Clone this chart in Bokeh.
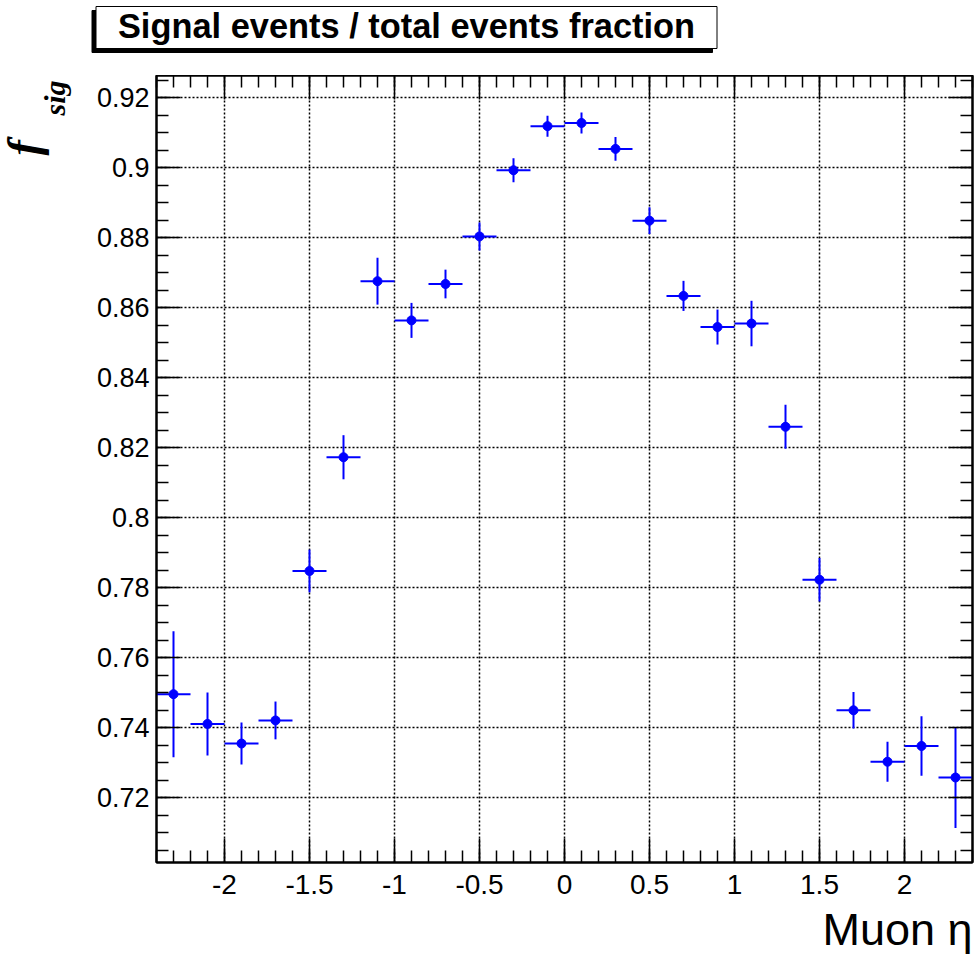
from bokeh.embed import file_html
from bokeh.layouts import column
from bokeh.models import ColumnDataSource, FixedTicker, Label, LinearAxis, Range1d, Title
from bokeh.plotting import figure
from bokeh.resources import INLINE

# Signal fraction per muon-eta bin (bin centres, values, symmetric errors)
eta_centers = [-2.3, -2.1, -1.9, -1.7, -1.5, -1.3, -1.1, -0.9, -0.7, -0.5, -0.3, -0.1,
               0.1, 0.3, 0.5, 0.7, 0.9, 1.1, 1.3, 1.5, 1.7, 1.9, 2.1, 2.3]
f_sig = [0.7496, 0.7411, 0.7355, 0.7421, 0.7848, 0.8173, 0.8676, 0.8564, 0.8668, 0.8804,
         0.8993, 0.9119, 0.9128, 0.9054, 0.8849, 0.8634, 0.8545, 0.8555, 0.8260, 0.7823,
         0.7450, 0.7303, 0.7348, 0.7258]
f_sig_err = [0.0180, 0.0090, 0.0060, 0.0054, 0.0061, 0.0063, 0.0067, 0.0050, 0.0041, 0.0040,
             0.0034, 0.0030, 0.0030, 0.0034, 0.0038, 0.0043, 0.0050, 0.0065, 0.0063, 0.0062,
             0.0052, 0.0057, 0.0085, 0.0144]
bin_width = 0.2

# Axis ticks
x_major = [-2.0, -1.5, -1.0, -0.5, 0.0, 0.5, 1.0, 1.5, 2.0]
x_labels = ["-2", "-1.5", "-1", "-0.5", "0", "0.5", "1", "1.5", "2"]
x_minor = [round(-2.4 + 0.1 * i, 2) for i in range(49)]
y_major = [0.72, 0.74, 0.76, 0.78, 0.80, 0.82, 0.84, 0.86, 0.88, 0.90, 0.92]
y_labels = ["0.72", "0.74", "0.76", "0.78", "0.8", "0.82", "0.84", "0.86", "0.88", "0.9", "0.92"]
y_minor = [round(0.700 + 0.005 * i, 3) for i in range(46)]

title_text = "Signal events / total events fraction"
x_title = "Muon \u03b7"
y_title_main = "f"
y_title_sub = "sig"

X_RANGE = (-2.4, 2.4)
Y_RANGE = (0.70151, 0.92637)

W = 976
HEAD_H = 75          # strip holding the boxed title
BODY_H = 963 - HEAD_H

# ---- title strip: its frame covers the whole strip, coordinates = pixels (y down)
head = figure(width=W, height=HEAD_H, x_range=Range1d(0, W), y_range=Range1d(HEAD_H, 0),
              output_backend="svg", toolbar_location=None,
              min_border_left=0, min_border_right=0, min_border_top=0, min_border_bottom=0,
              x_axis_location=None, y_axis_location=None)
head.xgrid.visible = False
head.ygrid.visible = False
head.outline_line_color = None
head.background_fill_color = "white"
head.border_fill_color = "white"
# drop shadow, then the white box on top of it
head.quad(left=[91.5], right=[712], top=[10], bottom=[52],
          fill_color="black", line_color="black", line_width=1)
head.quad(left=[95.5], right=[716.5], top=[6], bottom=[48],
          fill_color="white", line_color="black", line_width=1)
head.add_layout(Label(x=406, y=25, text=title_text, text_font="Liberation Sans",
                      text_font_size="34.4px", text_font_style="bold", text_color="black",
                      text_align="center", text_baseline="middle"))

# ---- main plot
p = figure(width=W, height=BODY_H, x_range=X_RANGE, y_range=Y_RANGE,
           output_backend="svg", toolbar_location=None,
           min_border_left=156, min_border_right=4,
           min_border_top=0, min_border_bottom=101,
           x_axis_location=None, y_axis_location=None)
p.background_fill_color = "white"
p.border_fill_color = "white"
p.outline_line_color = "black"
p.outline_line_width = 2

# keep each frame on its own geometry inside the column
if "frame_align" in head.properties():
    head.frame_align = False
    p.frame_align = False


def make_axis(ticks, minor, labels, show_labels, size, standoff):
    ax = LinearAxis(ticker=FixedTicker(ticks=ticks, minor_ticks=minor))
    ax.axis_line_color = "black"
    ax.axis_line_width = 2
    ax.major_tick_line_color = "black"
    ax.major_tick_line_width = 1.5
    ax.minor_tick_line_color = "black"
    ax.minor_tick_line_width = 1.5
    ax.major_tick_in = 24
    ax.major_tick_out = 0
    ax.minor_tick_in = 12
    ax.minor_tick_out = 0
    ax.major_label_text_font = "Liberation Sans"
    ax.major_label_text_color = "black"
    if show_labels:
        ax.major_label_overrides = {t: l for t, l in zip(ticks, labels)}
        ax.major_label_text_font_size = size
        ax.major_label_standoff = standoff
    else:
        # mirrored axis: ticks only
        ax.major_label_overrides = {t: "" for t in ticks}
        ax.major_label_text_font_size = "1px"
        ax.major_label_standoff = 0
    return ax


p.add_layout(make_axis(x_major, x_minor, x_labels, True, "28px", 12), "below")
p.add_layout(make_axis(x_major, x_minor, x_labels, False, None, 0), "above")
p.add_layout(make_axis(y_major, y_minor, y_labels, True, "27px", 7), "left")
p.add_layout(make_axis(y_major, y_minor, y_labels, False, None, 0), "right")

# Dotted grid at the major ticks
p.xgrid.ticker = FixedTicker(ticks=x_major)
p.ygrid.ticker = FixedTicker(ticks=y_major)
for g in (p.xgrid, p.ygrid):
    g.grid_line_color = "black"
    g.grid_line_width = 1.5
    g.grid_line_dash = "2 2"

# Points with error bars
src = ColumnDataSource(dict(
    x=eta_centers,
    y=f_sig,
    x0=[c - bin_width / 2 for c in eta_centers],
    x1=[c + bin_width / 2 for c in eta_centers],
    y0=[v - e for v, e in zip(f_sig, f_sig_err)],
    y1=[v + e for v, e in zip(f_sig, f_sig_err)],
))
p.segment(x0="x0", y0="y", x1="x1", y1="y", source=src, line_color="#0000ff", line_width=2)
p.segment(x0="x", y0="y0", x1="x", y1="y1", source=src, line_color="#0000ff", line_width=2)
p.scatter(x="x", y="y", source=src, marker="circle", size=9,
          fill_color="#0000ff", line_color="#0000ff")

# x-axis title, right-aligned under the frame
p.add_layout(Title(text=x_title, align="right", offset=0, standoff=10,
                   vertical_align="bottom", text_font="Liberation Sans",
                   text_font_size="45px", text_font_style="normal",
                   text_color="black"), "below")

# y-axis title: f with subscript sig
p.add_layout(Title(text=y_title_sub, align="left", offset=747, standoff=46,
                   text_font="Liberation Serif", text_font_size="30px",
                   text_font_style="bold italic", text_color="black"), "left")
p.add_layout(Title(text=y_title_main, align="left", offset=707, standoff=-72,
                   text_font="Liberation Serif", text_font_size="46px",
                   text_font_style="bold italic", text_color="black"), "left")

layout = column(head, p, spacing=0)
open("out.html", "w").write(file_html(layout, INLINE))
